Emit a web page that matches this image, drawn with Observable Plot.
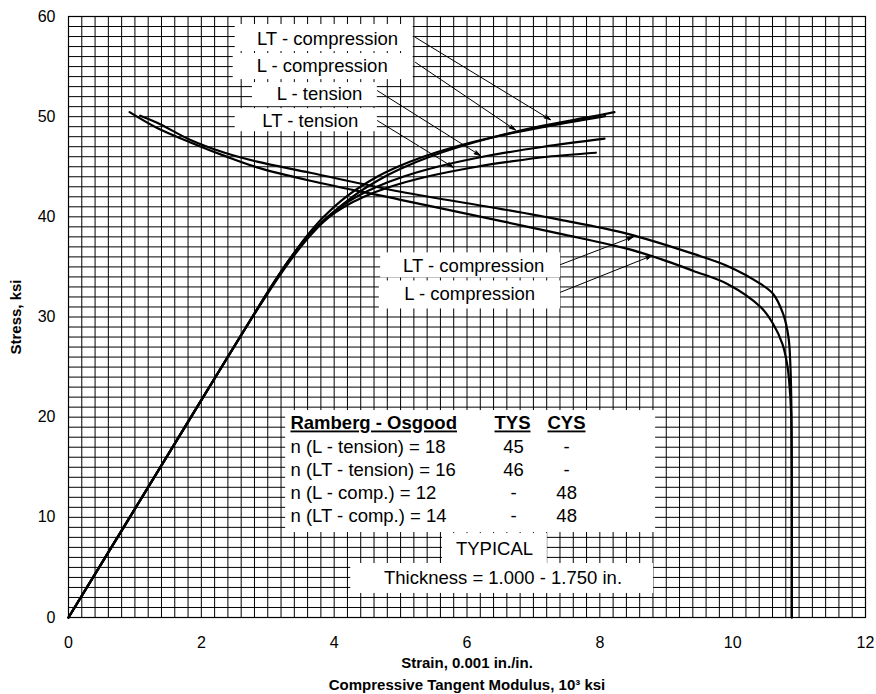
<!DOCTYPE html>
<html><head><meta charset="utf-8">
<script src="https://cdn.jsdelivr.net/npm/d3@7"></script>
<script src="https://cdn.jsdelivr.net/npm/@observablehq/plot@0.6"></script>
<style>
body{margin:0;background:#fff}
</style>
</head><body><div id="chart"></div>
<script>
// ---- Stress-strain curves: strain (0.001 in./in.), stress (ksi)
const lCompStrain   = [0, 0.922, 1.845, 2.772, 3.166, 3.381, 3.623, 3.911, 4.274, 4.759, 5.069, 5.439, 5.886, 6.424, 7.077, 7.872, 8.22];
const lCompStress   = [0, 10, 20, 30, 34, 36, 38, 40, 42, 44, 45, 46, 47, 48, 49, 50, 50.45];
const ltCompStrain  = [0, 0.922, 1.843, 2.768, 3.150, 3.354, 3.578, 3.843, 4.179, 4.647, 4.957, 5.342, 5.821, 6.424, 7.185, 8.08];
const ltCompStress  = [0, 10, 20, 30, 34, 36, 38, 40, 42, 44, 45, 46, 47, 48, 49, 50.05];
const lTensStrain   = [0, 0.922, 1.843, 2.766, 3.146, 3.354, 3.597, 3.927, 4.153, 4.449, 4.845, 5.390, 6.147, 6.634, 7.210, 7.94];
const lTensStress   = [0, 10, 20, 30, 34, 36, 38, 40, 41, 42, 43, 44, 45, 45.5, 46, 46.4];
const ltTensStrain  = [0, 0.922, 1.843, 2.767, 3.150, 3.358, 3.596, 3.900, 4.096, 4.337, 4.643, 5.037, 5.555, 6.240, 7.153, 8.07];
const ltTensStress  = [0, 10, 20, 30, 34, 36, 38, 40, 41, 42, 43, 44, 45, 46, 47, 47.8];

// ---- Compressive tangent modulus curves: modulus (10^3 ksi), stress (ksi)
const ltCompTanMod    = [1.08, 1.335, 1.837, 2.34, 2.84, 3.64, 5.0, 6.5, 7.41, 8.42, 9.41, 9.92, 10.42, 10.61, 10.76, 10.84, 10.87, 10.885, 10.89, 10.89];
const ltCompTanStress = [50.1, 49.4, 47.67, 46.42, 45.51, 44.4, 42.5, 40.8, 39.7, 38.3, 36.3, 35.1, 33.3, 32.3, 30.3, 28.0, 25.0, 20.4, 10, 0];
const lCompTanMod     = [0.92, 1.335, 1.837, 2.34, 2.84, 3.64, 5.0, 6.5, 7.41, 8.42, 8.91, 9.41, 9.92, 10.42, 10.61, 10.75, 10.82, 10.85, 10.88, 10.89, 10.89];
const lCompTanStress  = [50.45, 48.87, 47.43, 46.11, 44.94, 43.6, 41.7, 39.6, 38.3, 36.8, 35.8, 34.6, 33.3, 31.0, 29.3, 27.3, 25.3, 23.65, 20.4, 10, 0];

// ---- Ticks
const xTicks = [0, 2, 4, 6, 8, 10, 12];
const yTicks = [0, 10, 20, 30, 40, 50, 60];

// ---- Ramberg-Osgood table
const roLabels = ["n (L - tension) = 18", "n (LT - tension) = 16", "n (L - comp.) = 12", "n (LT - comp.) = 14"];
const roTYS = ["45", "46", "-", "-"];
const roCYS = ["-", "-", "48", "48"];

// ---- Curve labels
const curveLabels = ["LT - compression", "L - compression", "L - tension", "LT - tension", "LT - compression", "L - compression"];

const toPts = (xs, ys, name) => xs.map((x, i) => ({x, y: ys[i], name}));
const curves = [
  ...toPts(lCompStrain, lCompStress, "L-comp SS"),
  ...toPts(ltCompStrain, ltCompStress, "LT-comp SS"),
  ...toPts(lTensStrain, lTensStress, "L-tens SS"),
  ...toPts(ltTensStrain, ltTensStress, "LT-tens SS"),
  ...toPts(ltCompTanMod, ltCompTanStress, "LT-comp Et"),
  ...toPts(lCompTanMod, lCompTanStress, "L-comp Et")
];

// ---- layout (annotation placement, data units)
const labelBoxes = [
  {x1: 2.51, x2: 5.19, y1: 59.2, y2: 56.5, tx: 3.90, ty: 57.7},
  {x1: 2.48, x2: 5.19, y1: 56.3, y2: 53.7, tx: 3.82, ty: 55.1},
  {x1: 2.77, x2: 4.65, y1: 53.4, y2: 51.0, tx: 3.78, ty: 52.3},
  {x1: 2.51, x2: 4.65, y1: 50.8, y2: 48.5, tx: 3.64, ty: 49.6},
  {x1: 4.70, x2: 7.41, y1: 36.4, y2: 33.9, tx: 6.10, ty: 35.1},
  {x1: 4.68, x2: 7.41, y1: 33.6, y2: 30.8, tx: 6.04, ty: 32.3}
].map((d, i) => ({...d, label: curveLabels[i]}));
const arrows = [
  {x1: 5.224, y1: 57.91, x2: 7.257, y2: 49.70},
  {x1: 5.224, y1: 55.42, x2: 6.730, y2: 48.67},
  {x1: 4.652, y1: 52.59, x2: 6.203, y2: 46.11},
  {x1: 4.652, y1: 49.60, x2: 5.796, y2: 44.94},
  {x1: 7.407, y1: 35.23, x2: 8.506, y2: 38.02},
  {x1: 7.407, y1: 32.47, x2: 8.788, y2: 36.13}
];
const panels = [
  {x1: 3.27, x2: 8.84, y1: 20.66, y2: 8.48},
  {x1: 5.63, x2: 7.21, y1: 8.38, y2: 5.39},
  {x1: 4.25, x2: 8.81, y1: 5.39, y2: 2.40}
];
const rowY = [16.97, 14.67, 12.38, 10.08];
const tableRows = roLabels.map((t, i) => ({t, tys: roTYS[i], cys: roCYS[i], y: rowY[i]}));

const gridX = d3.range(0, 61).map(i => i * 0.2);
const gridY = d3.range(0, 61);

const FONT = "Liberation Sans, Arial, Helvetica, sans-serif";
const AF = 18.5;

const chart = Plot.plot({
  width: 876, height: 694,
  marginLeft: 68, marginRight: 11, marginTop: 16, marginBottom: 77,
  x: {domain: [0, 12], axis: null},
  y: {domain: [0, 60], axis: null},
  style: {fontFamily: FONT, background: "white", color: "black"},
  marks: [
    Plot.ruleX(gridX, {stroke: "#000", strokeWidth: 1}),
    Plot.ruleY(gridY, {stroke: "#000", strokeWidth: 1}),
    Plot.frame({stroke: "#000", strokeWidth: 1.2}),
    Plot.line(curves, {x: "x", y: "y", z: "name", stroke: "#000", strokeWidth: 2.2, curve: "catmull-rom"}),
    Plot.rect(labelBoxes, {x1: "x1", x2: "x2", y1: "y1", y2: "y2", fill: "white"}),
    Plot.text(labelBoxes, {x: "tx", y: "ty", text: "label", fontSize: AF, fill: "#000"}),
    Plot.arrow(arrows, {x1: "x1", y1: "y1", x2: "x2", y2: "y2", stroke: "#000", fill: "#000", strokeWidth: 1, headLength: 10, headAngle: 32, strokeLinejoin: "miter"}),
    Plot.rect(panels, {x1: "x1", x2: "x2", y1: "y1", y2: "y2", fill: "white"}),
    Plot.text(["Ramberg - Osgood"], {x: 3.342, y: 19.36, text: d => d, textAnchor: "start", fontSize: AF, fontWeight: "bold"}),
    Plot.text(["TYS"], {x: 6.685, y: 19.36, text: d => d, fontSize: AF, fontWeight: "bold"}),
    Plot.text(["CYS"], {x: 7.498, y: 19.36, text: d => d, fontSize: AF, fontWeight: "bold"}),
    Plot.text(tableRows, {x: 3.342, y: "y", text: "t", textAnchor: "start", fontSize: AF}),
    Plot.text(tableRows, {x: 6.70, y: "y", text: "tys", fontSize: AF}),
    Plot.text(tableRows, {x: 7.50, y: "y", text: "cys", fontSize: AF}),
    Plot.text(["TYPICAL"], {x: 6.414, y: 6.8, text: d => d, fontSize: AF}),
    Plot.text(["Thickness = 1.000 - 1.750 in."], {x: 6.542, y: 3.89, text: d => d, fontSize: AF}),
    Plot.text(xTicks, {x: d => d, y: 0, dy: 25, text: d => String(d), fontSize: 16}),
    Plot.text(yTicks, {x: 0, y: d => d, dx: -13, textAnchor: "end", text: d => String(d), fontSize: 16}),
    Plot.text(["Strain, 0.001 in./in."], {x: 6, y: 0, dy: 46, text: d => d, fontSize: 15, fontWeight: "bold"}),
    Plot.text(["Compressive Tangent Modulus, 10³ ksi"], {x: 6, y: 0, dy: 68, text: d => d, fontSize: 15, fontWeight: "bold"}),
    Plot.text(["Stress, ksi"], {x: 0, y: 30, dx: -52, rotate: -90, text: d => d, fontSize: 15, fontWeight: "bold"})
  ]
});
// underline table headings
d3.select(chart).selectAll("text").filter(function(){ return ["Ramberg - Osgood","TYS","CYS"].includes(this.textContent); }).attr("text-decoration", "underline");
document.getElementById("chart").appendChild(chart);
</script>
</body></html>
